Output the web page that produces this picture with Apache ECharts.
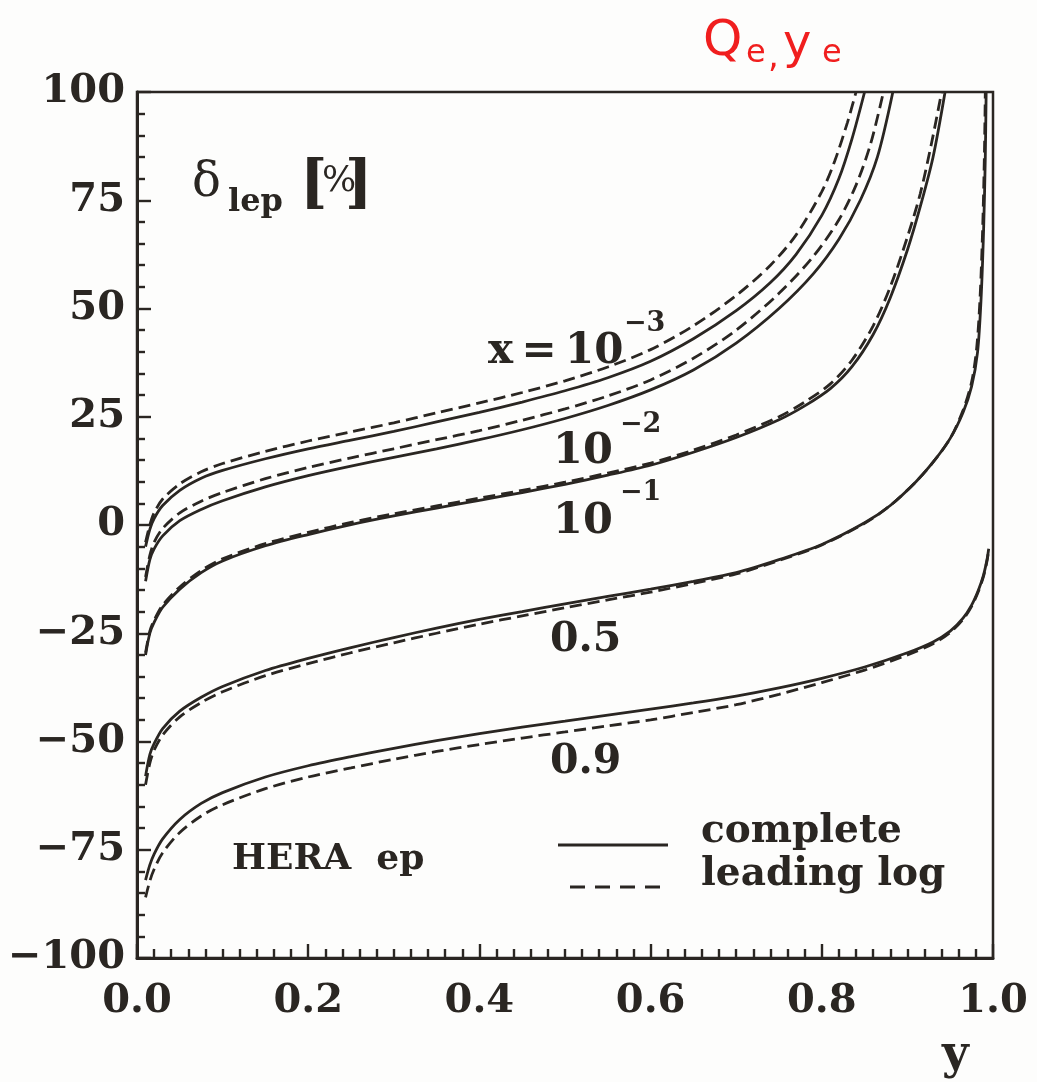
<!DOCTYPE html>
<html>
<head>
<meta charset="utf-8">
<script src="https://cdn.jsdelivr.net/npm/echarts@6/dist/echarts.min.js"></script>
<style>
  html, body { margin: 0; padding: 0; background: #fdfdfc; }
  #chart { width: 1037px; height: 1082px; }
</style>
</head>
<body>
<div id="chart"></div>
<script>
// Radiative correction delta_lep [%] versus y at HERA, for several Bjorken x values.
// Each curve: y positions and correction values (complete vs leading-log).

const yTicks = [0.0, 0.2, 0.4, 0.6, 0.8, 1.0];
const deltaTicks = [-100, -75, -50, -25, 0, 25, 50, 75, 100];

// x = 1e-3
const y_x3_full = [0.01, 0.015, 0.02, 0.03, 0.05, 0.075, 0.1, 0.15, 0.2, 0.25, 0.3, 0.35, 0.4, 0.45, 0.5, 0.55, 0.6, 0.65, 0.7, 0.74, 0.77, 0.8, 0.82, 0.835, 0.85];
const d_x3_full = [-5, -1, 1.5, 4.5, 8, 10.8, 12.6, 15.3, 17.6, 19.6, 21.6, 23.8, 26, 28.4, 31, 34, 37.8, 43, 49.5, 56, 62.5, 71.5, 80, 89, 100];
const y_x3_ll   = [0.01, 0.015, 0.02, 0.03, 0.05, 0.075, 0.1, 0.15, 0.2, 0.25, 0.3, 0.35, 0.4, 0.45, 0.5, 0.55, 0.6, 0.65, 0.7, 0.74, 0.77, 0.8, 0.815, 0.83, 0.84];
const d_x3_ll   = [-4, 0, 2.8, 6, 9.5, 12.3, 14.2, 17, 19.4, 21.5, 23.6, 25.9, 28.2, 30.6, 33.3, 36.5, 40.5, 46, 53, 60, 67, 77, 84, 93, 100];

// x = 1e-2
const y_x2_full = [0.01, 0.015, 0.02, 0.03, 0.05, 0.075, 0.1, 0.15, 0.2, 0.25, 0.3, 0.35, 0.4, 0.45, 0.5, 0.55, 0.6, 0.65, 0.7, 0.75, 0.79, 0.82, 0.845, 0.865, 0.883];
const d_x2_full = [-13, -8, -5.5, -2.5, 1, 3.6, 5.6, 8.8, 11.4, 13.6, 15.6, 17.6, 19.7, 22, 24.6, 27.6, 31.2, 35.8, 42, 50, 58, 66, 75, 85, 100];
const y_x2_ll   = [0.01, 0.015, 0.02, 0.03, 0.05, 0.075, 0.1, 0.15, 0.2, 0.25, 0.3, 0.35, 0.4, 0.45, 0.5, 0.55, 0.6, 0.65, 0.7, 0.75, 0.79, 0.82, 0.84, 0.857, 0.872];
const d_x2_ll   = [-12, -7, -4, -0.8, 2.8, 5.5, 7.5, 10.7, 13.3, 15.5, 17.6, 19.7, 21.8, 24.2, 26.8, 29.8, 33.5, 38.5, 45, 53.5, 62, 70.5, 78.5, 88, 100];

// x = 1e-1
const y_x1_full = [0.01, 0.015, 0.02, 0.03, 0.05, 0.075, 0.1, 0.15, 0.2, 0.25, 0.3, 0.35, 0.4, 0.45, 0.5, 0.55, 0.6, 0.65, 0.7, 0.75, 0.78, 0.81, 0.835, 0.86, 0.88, 0.9, 0.915, 0.93, 0.944];
const d_x1_full = [-30, -25, -22.5, -19, -14.8, -11, -8.3, -4.8, -2.2, 0.1, 2.1, 3.9, 5.7, 7.5, 9.4, 11.5, 13.8, 16.8, 20.2, 24.3, 27.5, 31.5, 36.5, 44, 52.5, 63.5, 73.5, 85, 100];
const y_x1_ll   = [0.01, 0.015, 0.02, 0.03, 0.05, 0.075, 0.1, 0.15, 0.2, 0.25, 0.3, 0.35, 0.4, 0.45, 0.5, 0.55, 0.6, 0.65, 0.7, 0.75, 0.78, 0.81, 0.835, 0.86, 0.88, 0.9, 0.915, 0.928, 0.94];
const d_x1_ll   = [-29.5, -24.5, -22, -18.5, -14.3, -10.5, -7.8, -4.3, -1.7, 0.6, 2.6, 4.4, 6.2, 8, 9.9, 12, 14.3, 17.3, 20.8, 25, 28.4, 32.6, 38, 46, 55, 66.5, 76.5, 88, 100];

// x = 0.5
const y_x05_full = [0.01, 0.015, 0.02, 0.03, 0.05, 0.075, 0.1, 0.15, 0.2, 0.25, 0.3, 0.35, 0.4, 0.45, 0.5, 0.55, 0.6, 0.65, 0.7, 0.75, 0.8, 0.85, 0.88, 0.91, 0.93, 0.95, 0.965, 0.975, 0.982, 0.986, 0.989, 0.991, 0.992];
const d_x05_full = [-58, -53, -50.5, -47, -43, -39.8, -37.3, -33.6, -30.8, -28.3, -26, -23.8, -21.8, -20, -18.2, -16.5, -14.8, -13, -11, -8, -4.5, 0.5, 4.5, 10, 14.5, 20, 26, 32, 40, 52, 68, 85, 100];
const y_x05_ll   = [0.01, 0.015, 0.02, 0.03, 0.05, 0.075, 0.1, 0.15, 0.2, 0.25, 0.3, 0.35, 0.4, 0.45, 0.5, 0.55, 0.6, 0.65, 0.7, 0.75, 0.8, 0.85, 0.88, 0.91, 0.93, 0.95, 0.965, 0.975, 0.981, 0.985, 0.988, 0.99, 0.991];
const d_x05_ll   = [-60, -55, -52, -48.5, -44.3, -41, -38.5, -34.8, -32, -29.5, -27.2, -25, -22.9, -21, -19.1, -17.3, -15.5, -13.5, -11.3, -8.2, -4.6, 0.4, 4.5, 10, 14.5, 20, 26.5, 33, 41, 53, 69, 86, 100];

// x = 0.9
const y_x09_full = [0.01, 0.015, 0.02, 0.03, 0.05, 0.075, 0.1, 0.15, 0.2, 0.25, 0.3, 0.35, 0.4, 0.45, 0.5, 0.55, 0.6, 0.65, 0.7, 0.75, 0.8, 0.85, 0.9, 0.93, 0.95, 0.965, 0.975, 0.983, 0.989, 0.993, 0.995];
const d_x09_full = [-82, -78.5, -76, -72.5, -68, -64.3, -61.8, -58.2, -55.6, -53.5, -51.6, -49.8, -48.2, -46.7, -45.3, -43.9, -42.5, -41.1, -39.5, -37.6, -35.4, -32.8, -29.5, -27, -24.5, -21.5, -18.5, -15, -11.5, -8, -5.5];
const y_x09_ll   = [0.01, 0.015, 0.02, 0.03, 0.05, 0.075, 0.1, 0.15, 0.2, 0.25, 0.3, 0.35, 0.4, 0.45, 0.5, 0.55, 0.6, 0.65, 0.7, 0.75, 0.8, 0.85, 0.9, 0.93, 0.95, 0.965, 0.975, 0.983, 0.989, 0.993, 0.995];
const d_x09_ll   = [-86, -82.2, -79.5, -75.7, -71, -67.2, -64.6, -60.9, -58.2, -56.1, -54.1, -52.3, -50.7, -49.2, -47.8, -46.4, -45, -43.3, -41.5, -39.1, -36.4, -33.5, -30, -27.4, -24.8, -21.8, -18.8, -15.3, -11.8, -8.3, -5.8];

const INK = '#2a2622';
const SERIF = '"DejaVu Serif", "Liberation Serif", serif';
const NOTE = '#f01e1e';
const HAND = '"DejaVu Sans", sans-serif';
const DASH = [12, 6];

function pairs(xs, vs) { return xs.map((x, i) => [x, vs[i]]); }

function curve(name, xs, vs, dashed) {
  return {
    type: 'line',
    name: name,
    data: pairs(xs, vs),
    smooth: 0.3,
    symbol: 'none',
    showSymbol: false,
    clip: true,
    lineStyle: { color: INK, width: 2.8, type: dashed ? DASH : 'solid' },
    itemStyle: { color: INK },
    emphasis: { disabled: true },
    z: dashed ? 3 : 4
  };
}

const FULL = 'complete';
const LL = 'leading log';

const series = [
  curve(FULL, y_x3_full, d_x3_full, false),
  curve(LL, y_x3_ll, d_x3_ll, true),
  curve(FULL, y_x2_full, d_x2_full, false),
  curve(LL, y_x2_ll, d_x2_ll, true),
  curve(FULL, y_x1_full, d_x1_full, false),
  curve(LL, y_x1_ll, d_x1_ll, true),
  curve(FULL, y_x05_full, d_x05_full, false),
  curve(LL, y_x05_ll, d_x05_ll, true),
  curve(FULL, y_x09_full, d_x09_full, false),
  curve(LL, y_x09_ll, d_x09_ll, true)
];

function txt(x, y, text, size, opts) {
  opts = opts || {};
  return {
    type: 'text', x: x, y: y, silent: true, z: 10,
    style: {
      text: text,
      font: (opts.weight || 'bold') + ' ' + size + 'px ' + (opts.family || SERIF),
      fill: opts.color || INK,
      textAlign: opts.align || 'left',
      textVerticalAlign: 'middle'
    }
  };
}

function key(x1, x2, y, dashed) {
  return {
    type: 'line', silent: true, z: 10,
    shape: { x1: x1, y1: y, x2: x2, y2: y },
    style: { stroke: INK, lineWidth: 2.8, lineDash: dashed ? [15, 10] : null }
  };
}

const chart = echarts.init(document.getElementById('chart'), null, { renderer: 'canvas' });

chart.setOption({
  animation: false,
  backgroundColor: '#fdfdfc',
  grid: {
    left: 137, right: 44, top: 92, bottom: 124,
    show: true, borderColor: INK, borderWidth: 2.5, backgroundColor: 'transparent'
  },
  xAxis: {
    type: 'value', min: 0, max: 1, interval: 0.2,
    axisLine: { show: true, onZero: false, lineStyle: { color: INK, width: 3 } },
    axisTick: { show: true, inside: true, length: 14, lineStyle: { color: INK, width: 2.4 } },
    minorTick: { show: true, splitNumber: 10, length: 9, lineStyle: { color: INK, width: 2.4 } },
    splitLine: { show: false },
    axisLabel: {
      margin: 24, fontFamily: SERIF, fontWeight: 'bold', fontSize: 40, color: INK,
      formatter: v => yTicks.find(t => Math.abs(t - v) < 1e-9).toFixed(1)
    }
  },
  yAxis: {
    type: 'value', min: -100, max: 100, interval: 25,
    axisLine: { show: true, onZero: false, lineStyle: { color: INK, width: 3 } },
    axisTick: { show: true, inside: true, length: 14, lineStyle: { color: INK, width: 2.4 } },
    minorTick: { show: true, splitNumber: 5, length: 8, lineStyle: { color: INK, width: 2.4 } },
    splitLine: { show: false },
    axisLabel: {
      margin: 12, fontFamily: SERIF, fontWeight: 'bold', fontSize: 40, color: INK,
      formatter: v => {
        const t = deltaTicks.find(t => t === v);
        return t < 0 ? '\u2212' + Math.abs(t) : String(t);
      }
    }
  },
  series: series,
  graphic: [
    // axis title
    txt(192, 184, '\u03b4', 48, { weight: 'normal' }),
    txt(228, 203, 'lep', 32),
    txt(300, 186, '[', 58),
    txt(322, 182, '%', 36, { weight: 'normal' }),
    txt(345, 186, ']', 58),
    // curve labels
    txt(488, 352, 'x\u2009=\u200910', 42),
    txt(624, 324, '\u22123', 27),
    txt(553, 452, '10', 43),
    txt(620, 425, '\u22122', 27),
    txt(553, 522, '10', 43),
    txt(620, 493, '\u22121', 27),
    txt(550, 640, '0.5', 41),
    txt(550, 762, '0.9', 41),
    txt(232, 860, 'HERA  ep', 36),
    // line-style key
    key(558, 668, 845, false),
    txt(701, 832, FULL, 39),
    key(570, 667, 887, true),
    txt(701, 875, LL, 39),
    // x axis name
    txt(942, 1056, 'y', 46),
    // red note above the frame
    txt(703, 42, 'Q', 50, { weight: 'normal', color: NOTE, family: HAND }),
    txt(746, 54, 'e', 32, { weight: 'normal', color: NOTE, family: HAND }),
    txt(768, 58, ',', 34, { weight: 'normal', color: NOTE, family: HAND }),
    txt(783, 46, 'y', 48, { weight: 'normal', color: NOTE, family: HAND }),
    txt(822, 54, 'e', 32, { weight: 'normal', color: NOTE, family: HAND })
  ]
});
</script>
</body>
</html>
